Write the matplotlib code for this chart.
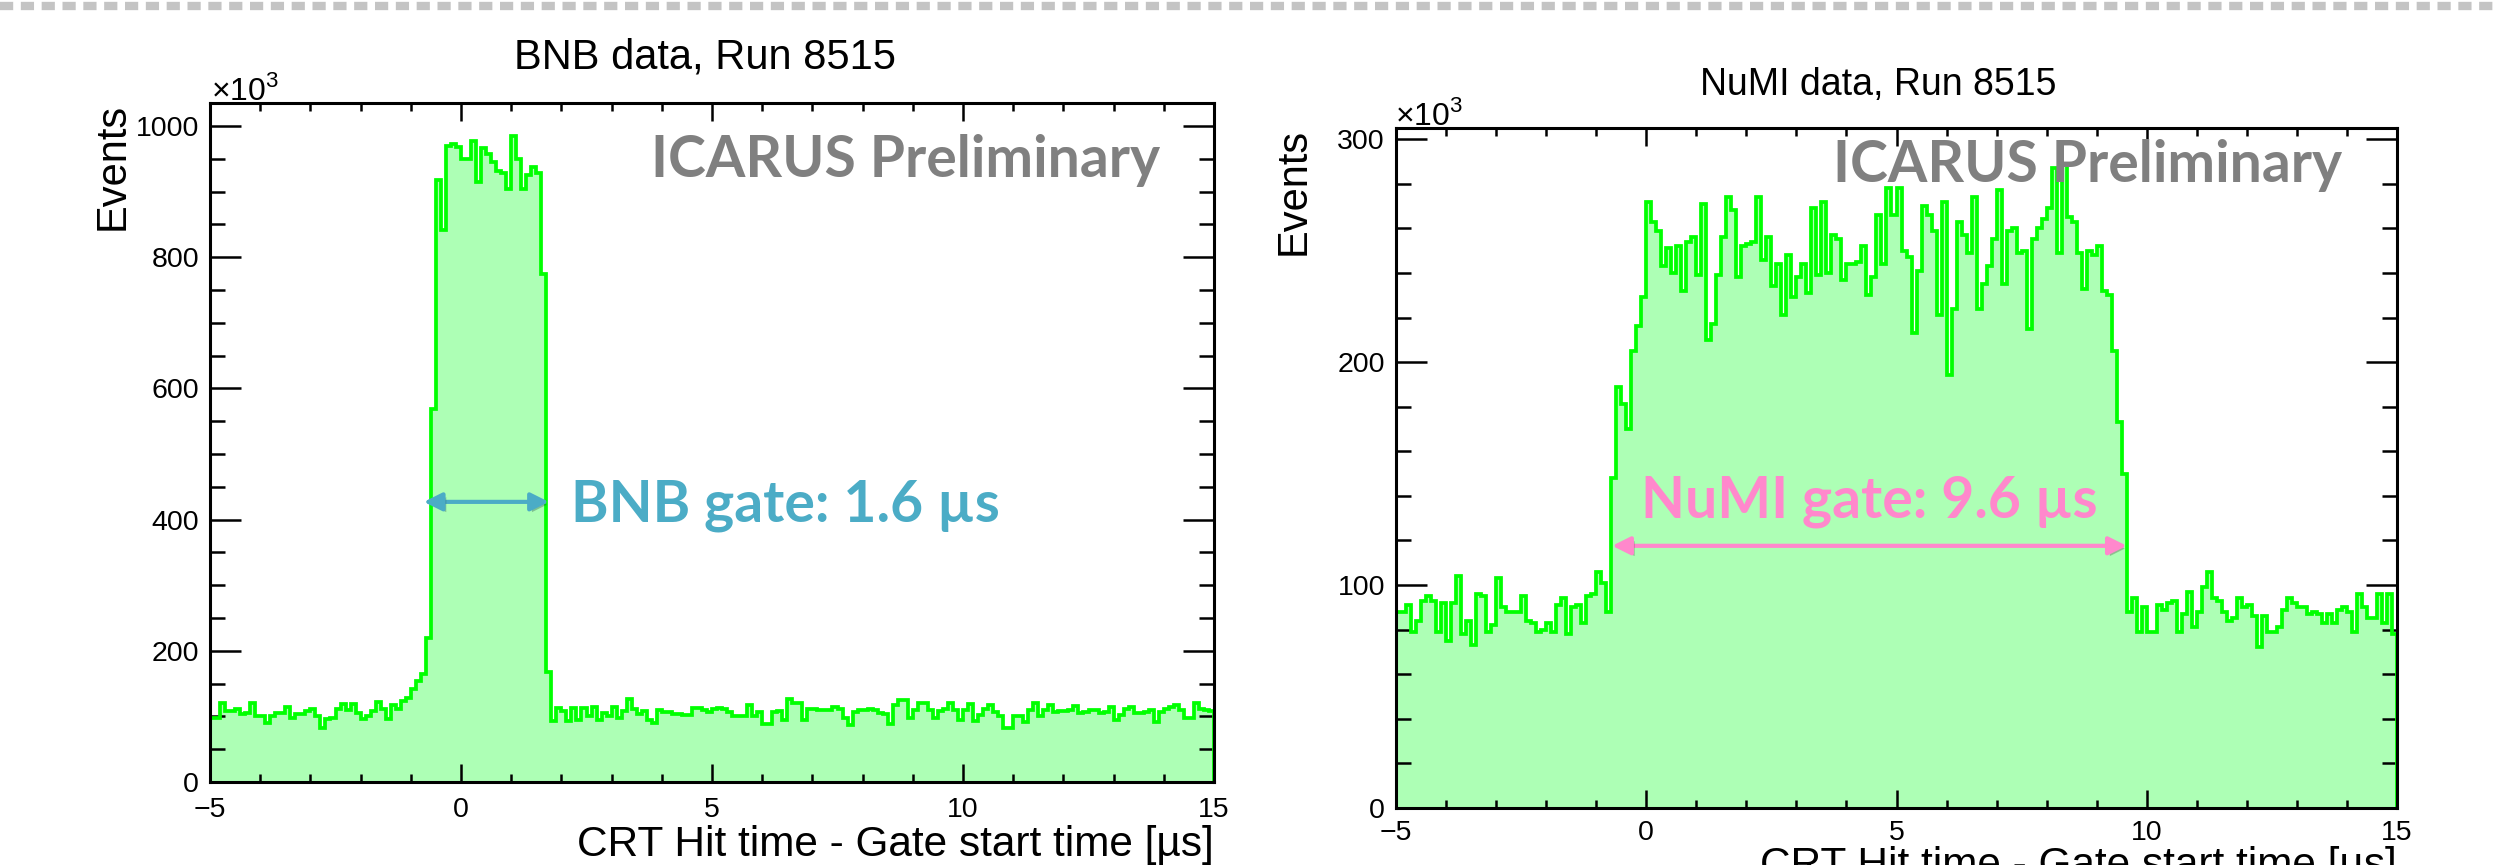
import numpy as np
import matplotlib.pyplot as plt
import matplotlib.patheffects as pe
from matplotlib.lines import Line2D
from matplotlib.ticker import MultipleLocator

plt.rcParams['font.family'] = ['Liberation Sans', 'DejaVu Sans']
plt.rcParams['mathtext.fontset'] = 'custom'
plt.rcParams['mathtext.rm'] = 'Liberation Sans'
plt.rcParams['lines.scale_dashes'] = False

W, H = 2499, 865

# binning: CRT hit time - gate start time [us], 0.1 us bins
t_lo, t_hi, n_bins = -5.0, 15.0, 200

# events per bin, in units of 10^3
bnb_counts = [
    97, 97, 120, 108, 108, 112, 103, 105, 120, 101,
    101, 90, 100, 105, 105, 115, 98, 103, 103, 108,
    112, 100, 83, 96, 98, 112, 119, 110, 119, 105,
    96, 100, 108, 122, 112, 96, 118, 112, 124, 128,
    142, 154, 165,
    219, 568, 918, 841, 969, 972, 968, 949, 949, 977,
    915, 966, 957, 945, 932, 928, 904, 984, 949, 904,
    925, 938, 928, 775, 168,
    93, 113, 108, 93, 113, 95, 113, 100, 115, 95,
    105, 100, 114, 98, 108, 126, 112, 104, 108, 95,
    90, 110, 106, 107, 104, 103, 102, 102, 113, 113,
    110, 107, 112, 113, 112, 107, 100, 100, 100, 118,
    100, 107, 89, 89, 106, 108, 94, 126, 121, 121,
    94, 112, 112, 110, 110, 110, 115, 112, 97, 87,
    107, 110, 110, 112, 110, 105, 104, 89, 117, 125,
    125, 98, 110, 121, 121, 110, 97, 108, 112, 120,
    110, 94, 110, 119, 93, 102, 112, 117, 107, 100,
    82, 82, 100, 100, 92, 110, 120, 100, 110, 117,
    107, 108, 108, 109, 116, 105, 107, 110, 109, 105,
    107, 115, 94, 102, 112, 115, 105, 105, 107, 110,
    92, 107, 112, 115, 117, 110, 97, 97, 120, 112,
    110, 108,
]

numi_counts = [
    88, 88, 91, 79, 84, 93, 95, 93, 79, 92,
    75, 92, 104, 78, 84, 73, 96, 95, 79, 82,
    103, 90, 88, 88, 88, 95, 84, 83, 79, 80,
    83, 79, 91, 94, 78, 90, 91, 83, 95, 96,
    106, 101, 88,
    148, 189, 181, 170, 205, 216, 229, 272, 263, 259,
    243, 251, 240, 252, 232, 254, 256, 239, 271, 210,
    217, 239, 256, 274, 268, 238, 252, 253, 254, 274,
    246, 256, 234, 244, 221, 248, 229, 238, 244, 231,
    269, 239, 272, 240, 257, 255, 237, 244, 244, 245,
    252, 230, 238, 266, 244, 278,
    266,
    278, 250, 247, 213, 241, 270, 266, 259, 221, 272,
    194, 224, 263, 257, 249, 274, 224, 235, 243, 255,
    277, 235, 259, 260, 249, 250, 215, 255, 260, 264,
    269, 287, 249, 289, 265, 263, 249, 233, 250, 248,
    252, 232, 230, 205, 173, 150,
    88, 94, 79, 90, 79, 79, 91, 89, 92, 93,
    79, 87, 97, 81, 88, 99, 106, 94, 93, 88,
    84, 85, 94, 90, 91, 86, 72, 86, 79, 79,
    81, 89, 94, 92, 90, 90, 87, 88, 87, 83,
    87, 83, 89, 90, 88, 79, 96, 90, 85, 85,
    96, 83, 96, 78,
]

titles = ['BNB data, Run 8515', 'NuMI data, Run 8515']
gate_labels = ['BNB gate: 1.6 \u00b5s', 'NuMI gate: 9.6 \u00b5s']
gate_colors = ['#4BACC6', '#FF88CC']
gate_arrows = [(-0.74, 1.75, 427), (-0.68, 9.6, 117.6)]
xlabel = 'CRT Hit time - Gate start time [\u00b5s]'

edges = np.linspace(t_lo, t_hi, n_bins + 1)

fig = plt.figure(figsize=(W / 100, H / 100), dpi=100)
fig.patch.set_facecolor('white')


def frame(x0, y0, x1, y1):
    return [x0 / W, 1 - y1 / H, (x1 - x0) / W, (y1 - y0) / H]


def fx(x):
    return x / W


def fy(y):
    return 1 - y / H


# dashed slide border at the top
fig.add_artist(Line2D([0, 1], [fy(6)] * 2, transform=fig.transFigure,
                      color='#c4c4c4', lw=6.0, dashes=(9.5, 5.5)))

panels = [
    dict(box=(210, 103, 1214, 782), ymax=1035, ymaj=200, ymin=50,
         counts=bnb_counts, xlab_y=856, xtick_pad=11, title_fs=30,
         title_xy=(705, 68), exp_xy=(211, 100), ev_xy=(113, 103),
         prelim_xy=(651, 177), gate_xy=(571, 522)),
    dict(box=(1396, 128, 2397, 808), ymax=305, ymaj=100, ymin=20,
         counts=numi_counts, xlab_y=877, xtick_pad=9, title_fs=27,
         title_xy=(1878, 95), exp_xy=(1395, 125), ev_xy=(1294, 128),
         prelim_xy=(1833, 182), gate_xy=(1641, 518)),
]

for i, p in enumerate(panels):
    x0, y0, x1, y1 = p['box']
    ax = fig.add_axes(frame(x0, y0, x1, y1))
    ax.set_xlim(t_lo, t_hi)
    ax.set_ylim(0, p['ymax'])

    ax.stairs(p['counts'], edges, fill=True, color='#adffb5', lw=0, zorder=1)
    ax.stairs(p['counts'], edges, baseline=0, color='#00ff00', lw=2.7, zorder=2.2)

    ax.xaxis.set_major_locator(MultipleLocator(5))
    ax.xaxis.set_minor_locator(MultipleLocator(1))
    ax.yaxis.set_major_locator(MultipleLocator(p['ymaj']))
    ax.yaxis.set_minor_locator(MultipleLocator(p['ymin']))
    ax.tick_params(which='both', direction='in', top=True, right=True,
                   width=1.8, color='black', labelsize=20.5)
    ax.tick_params(axis='x', which='major', length=13, pad=p['xtick_pad'])
    ax.tick_params(axis='x', which='minor', length=6)
    ax.tick_params(axis='y', which='major', length=22, pad=8)
    ax.tick_params(axis='y', which='minor', length=11)
    for s in ax.spines.values():
        s.set_linewidth(2.2)
        s.set_zorder(3)

    fig.text(fx(p['title_xy'][0]), fy(p['title_xy'][1]), titles[i],
             ha='center', va='baseline', fontsize=p['title_fs'])
    fig.text(fx(p['exp_xy'][0]), fy(p['exp_xy'][1]), r'$\times10^{3}$',
             ha='left', va='baseline', fontsize=23)
    fig.text(fx(p['ev_xy'][0]), fy(p['ev_xy'][1]), 'Events',
             rotation=90, ha='center', va='top', fontsize=30)
    fig.text(fx(x1), fy(p['xlab_y']), xlabel,
             ha='right', va='baseline', fontsize=30.5)

    fig.text(fx(p['prelim_xy'][0]), fy(p['prelim_xy'][1]), 'ICARUS Preliminary',
             ha='left', va='baseline', fontsize=41, family='Lato',
             weight='bold', color='#808080', zorder=1.5)
    fig.text(fx(p['gate_xy'][0]), fy(p['gate_xy'][1]), gate_labels[i],
             ha='left', va='baseline', fontsize=41, family='Lato',
             weight='bold', color=gate_colors[i], zorder=4)

    a0, a1, ay = gate_arrows[i]
    ax.annotate('', xy=(a1, ay), xytext=(a0, ay), zorder=4,
                arrowprops=dict(arrowstyle='<|-|>', color=gate_colors[i],
                                lw=3, mutation_scale=27, shrinkA=0, shrinkB=0,
                                path_effects=[pe.withSimplePatchShadow(
                                    offset=(2, -2), alpha=0.3)]))

fig.savefig('out.png', dpi=100)
